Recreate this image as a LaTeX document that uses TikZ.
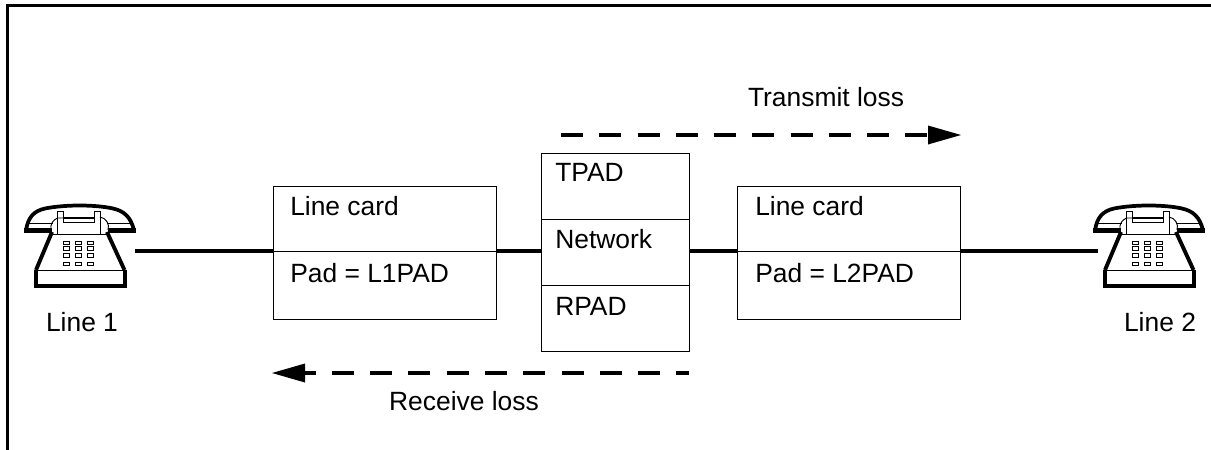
\documentclass[tikz,border=0pt]{standalone}
\usepackage{fontspec}
\setmainfont{Liberation Sans}
\tikzstyle{linecard} = [rectangle, minimum width=167.25pt, minimum height=99.75pt, draw=black, line width=.75pt]
\tikzstyle{pad} = [rectangle, minimum width=111pt, minimum height=49.5pt, draw=black, line width=.75pt]
\tikzstyle{label} = [inner sep=0pt, anchor=base west, font=\fontsize{19.8}{22}\selectfont]
\tikzstyle{wire} = [line width=2.3pt]
\tikzstyle{loss} = [line width=2.6pt, dash pattern=on 16.5pt off 12.2pt]
\tikzstyle{tip} = [fill=black, draw=none]
\tikzstyle{fine} = [line width=.7pt]
\newcommand{\telephone}[1]{%
  \begin{scope}[shift={#1}]
    % handset
    \draw [line width=2.8pt,line join=round] (26,50.5) .. controls (28,37) and (34,31) .. (45,28.5) .. controls (65,24.5) and (95,24.5) .. (113,28.5) .. controls (124,31) and (131,37) .. (134,50.5);
    \fill (24,48) rectangle (52,52.5);
    \fill (108,48) rectangle (135.5,52.5);
    \draw [fine] (27,43) -- (53,43);
    \draw [fine] (107,43) -- (132,43);
    % cradle
    \draw [fine] (63,38) -- (57.5,38) .. controls (53,40) and (50,44) .. (51,50);
    \draw [fine] (57.5,31) -- (57.5,54);
    \draw [fine] (57.5,31) -- (63,31) -- (63,42) -- (94.5,42) -- (94.5,31) -- (100,31) -- (100,54);
    \draw [line width=.9pt] (63,38) -- (94.5,38);
    \draw [fine] (100,37) .. controls (106,38) and (110,44) .. (108,50);
    \draw [fine] (52,54) -- (108,54);
    % body
    \draw [line width=2.9pt] (52,52) -- (36,90);
    \draw [line width=2.9pt] (107,52) -- (124.5,90);
    \draw [fine] (36,90.5) -- (124.5,90.5);
    \draw [line width=3pt, line join=miter] (36,90) -- (36,105.5) -- (125,105.5) -- (125,90);
    % keypad
    \foreach \row/\high in {61/3.5,66.5/3.5,73.5/4,82/3} {
      \foreach \col in {63.5,75,87} {
        \draw [fine] (\col,\row) rectangle +(6,\high);
      }
    }
  \end{scope}
}

\begin{document}
\begin{tikzpicture}[x=.75pt,y=-.75pt]
\useasboundingbox (0,0) rectangle (1211,450);

%Frame
\draw [line width=2.25pt] (7.5,450) -- (7.5,5.5) -- (1211,5.5);

%Telephones
\telephone{(0,180)}
\telephone{(1069,180)}
\coordinate (P1) at (135,251);
\coordinate (P2) at (1098,251);
\node (L1) [label,anchor=base] at (82,331) {Line 1};
\node (L2) [label,anchor=base] at (1160,331) {Line 2};

%Boxes
\node (C1) [linecard] at (384.5,252.5) {};
\node (C2) [linecard] at (848.5,252.5) {};
\node (PT) [pad] at (615,186) {};
\node (PN) [pad] at (615,252) {};
\node (PR) [pad] at (615,318) {};

%Texts
\node (T1) [label] at (290,215) {Line card};
\node (T2) [label] at (290,282) {Pad = L1PAD};
\node (T3) [label] at (755,215) {Line card};
\node (T4) [label] at (755,282) {Pad = L2PAD};
\node (T5) [label] at (555,181) {TPAD};
\node (T6) [label] at (555,248) {Network};
\node (T7) [label] at (555,315) {RPAD};

%Wires
\draw [wire] (P1) -- (C1.west |- P1);
\draw [wire] (C1.east |- P1) -- (PN.west |- P1);
\draw [wire] (PN.east |- P1) -- (C2.west |- P1);
\draw [wire] (C2.east |- P1) -- (P2);
\draw [line width=.75pt] (C1.west |- P1) -- (C1.east |- P1);
\draw [line width=.75pt] (C2.west |- P1) -- (C2.east |- P1);

%Loss arrows
\coordinate (A1) at (561,135);
\coordinate (A2) at (928,135);
\coordinate (A3) at (689,373);
\coordinate (A4) at (305,373);
\draw [loss] (A1) -- (A2);
\fill [tip] (A2) ++(0,-9.5) -- (961,135) -- (928,144.5) -- cycle;
\draw [loss,dash phase=7pt] (A3) -- (A4);
\fill [tip] (A4) ++(0,-9.5) -- (272,373) -- (305,382.5) -- cycle;
\node (TL) [label,anchor=base] at (826,106) {Transmit loss};
\node (RL) [label,anchor=base] at (464,410.5) {Receive loss};

\end{tikzpicture}
\end{document}
